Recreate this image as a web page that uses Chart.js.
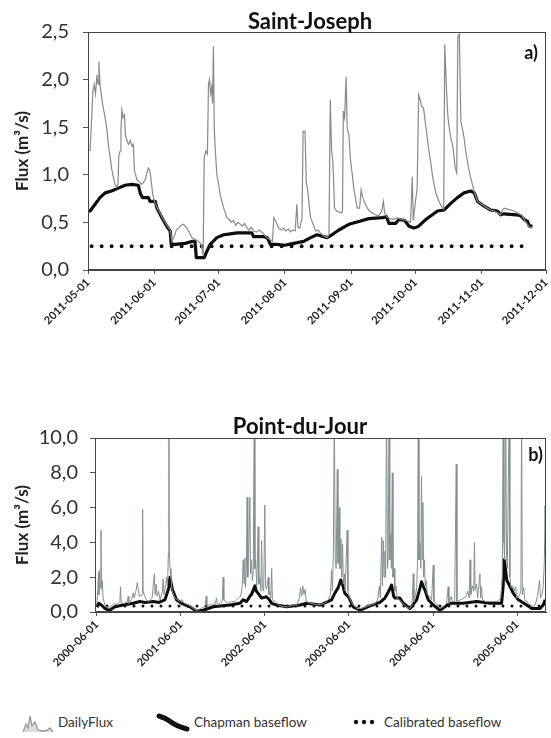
<!DOCTYPE html>
<html>
<head>
<meta charset="utf-8">
<title>Saint-Joseph / Point-du-Jour</title>
<script src="https://cdn.jsdelivr.net/npm/chart.js@4.4.1/dist/chart.umd.min.js"></script>
<style>
  html, body { margin: 0; padding: 0; background: #fff; }
  body { width: 551px; height: 738px; position: relative; overflow: hidden; font-family: Lato, "Open Sans", sans-serif; }
  canvas { position: absolute; left: 0; }
  #sj { top: 0; }
  #pdj { top: 400px; }
  .leg { position: absolute; top: 711px; height: 22px; display: flex; align-items: center; font-size: 13.5px; color: #333; white-space: nowrap; }
  .leg svg { margin-right: 4px; }
</style>
</head>
<body>
<canvas id="sj" width="551" height="345"></canvas>
<canvas id="pdj" width="551" height="300"></canvas>

<div class="leg" style="left:22px">
  <svg width="32" height="22"><polyline points="1,21 4,13 6,17 8,5 10,15 13,11 16,19 20,20 24,20 28,17 31,21" fill="#ddd" stroke="#999" stroke-width="1.3"/></svg>DailyFlux
</div>
<div class="leg" style="left:156px">
  <svg width="34" height="22"><path d="M3,5 Q10,7 15,11 T31,18" fill="none" stroke="#111" stroke-width="5" stroke-linecap="round"/></svg>Chapman baseflow
</div>
<div class="leg" style="left:352px">
  <svg width="28" height="10"><circle cx="4" cy="5" r="2.2" fill="#111"/><circle cx="12" cy="5" r="2.2" fill="#111"/><circle cx="20" cy="5" r="2.2" fill="#111"/></svg>Calibrated baseflow
</div>

<script>
// ---- Saint-Joseph (2011), days since 2011-05-01 ----
const sjTickDays = [0, 31, 61, 92, 123, 153, 184, 214];
const sjTickLabels = ["2011-05-01", "2011-06-01", "2011-07-01", "2011-08-01", "2011-09-01", "2011-10-01", "2011-11-01", "2011-12-01"];

const sjFluxDays = [
  1, 1.6, 2.3, 2.9, 3.5, 4.2, 4.7, 5.1, 5.6, 6.2,
  7, 8, 8.8, 9.5, 10.3, 11, 11.8, 12.6, 13.4, 14,
  14.4, 15, 15.4, 15.8, 16.4, 17, 17.5, 18.2, 18.9, 19.8,
  20.6, 21.2, 21.7, 22.3, 22.8, 23.8, 25, 26, 27, 27.6,
  28.2, 28.8, 29.2, 29.8, 30.3, 31, 32.2, 34.5, 36.8, 38.4,
  39.2, 40.2, 41.3, 42.3, 43.5, 44.6, 45.8, 47, 48.5, 50,
  51.6, 53, 53.8, 54.3, 55, 55.8, 56.3, 56.8, 57.3, 57.8,
  58.2, 58.6, 59, 59.5, 60.2, 61, 61.8, 62.6, 63.4, 64.2,
  64.9, 66, 67, 68, 69, 70, 71.2, 72.2, 73.2, 74.3,
  75.3, 76.3, 77.4, 78.8, 80.2, 82, 83.7, 85, 86.2, 86.8,
  88, 89.1, 90.3, 91.3, 92.5, 93.6, 94.6, 95.8, 96.8, 97.6,
  98.1, 99, 100, 100.5, 101.4, 102, 102.7, 103.4, 104, 105.2,
  106.3, 107.4, 108.6, 110, 111.7, 112.6, 113.2, 113.8, 114.4, 115.2,
  116.2, 117.2, 118.4, 118.9, 119.3, 119.9, 120.6, 121.1, 121.9, 122.7,
  123.5, 124.2, 125, 125.8, 126.9, 127.6, 128.4, 129.4, 130.5, 131.6,
  132.8, 134.3, 135.9, 137.2, 138, 138.6, 139.6, 141, 142.5, 144.5,
  146.5, 148.6, 150.7, 151.5, 152, 153, 153.8, 154.5, 155.3, 155.9,
  156.8, 157.6, 158.5, 159.3, 160.1, 160.9, 161.7, 162.6, 164, 165.6,
  166.2, 166.7, 167.6, 168.2, 168.8, 169.5, 170.6, 171.6, 172.3, 172.8,
  173.5, 174.2, 175, 175.7, 176.5, 177.3, 178, 178.8, 179.6, 180.4,
  181.2, 182, 184, 186.6, 188.2, 189.7, 191.3, 192.8, 193.6, 194.4,
  196, 197.6, 199, 200.6, 202.2, 203, 203.8, 204.6, 205.4, 206.2,
  207, 207.7
];
const sjFlux = [
  1.25, 1.55, 1.88, 1.95, 1.85, 2.05, 1.95, 2.19, 1.95, 1.84,
  1.72, 1.6, 1.48, 1.32, 1.2, 1.07, 0.98, 0.9, 0.87, 0.9,
  1.2, 1.25, 1.45, 1.68, 1.6, 1.63, 1.42, 1.36, 1.32, 1.36,
  1.3, 1.32, 1.04, 1.0, 0.95, 0.93, 0.9, 0.92, 0.96, 1.03,
  1.07, 1.05, 1.0, 0.88, 0.79, 0.72, 0.66, 0.56, 0.47, 0.42,
  0.3, 0.35, 0.42, 0.44, 0.47, 0.48, 0.45, 0.41, 0.34, 0.32,
  0.3, 0.27, 0.15, 1.18, 1.25, 1.22, 1.95, 2.0, 1.85, 1.92,
  1.75, 2.35, 1.49, 1.25, 1.0, 0.9, 0.79, 0.72, 0.65, 0.6,
  0.55, 0.53, 0.5, 0.52, 0.47, 0.5, 0.48, 0.46, 0.49, 0.44,
  0.42, 0.45, 0.41, 0.4, 0.42, 0.38, 0.34, 0.32, 0.3, 0.55,
  0.5, 0.44, 0.42, 0.44, 0.41, 0.43, 0.4, 0.42, 0.41, 0.69,
  0.45, 0.44, 0.55, 1.46, 1.46, 0.92, 0.83, 0.66, 0.55, 0.48,
  0.41, 0.42, 0.39, 0.36, 0.34, 0.37, 1.79, 1.25, 1.15, 0.65,
  0.62, 0.61, 0.6, 0.62, 1.67, 1.6, 2.03, 1.49, 1.42, 1.14,
  1.0, 0.86, 0.75, 0.65, 0.65, 0.84, 0.76, 0.7, 0.65, 0.62,
  0.6, 0.58, 0.57, 0.62, 0.72, 0.6, 0.56, 0.54, 0.53, 0.55,
  0.53, 0.52, 0.5, 0.98, 0.52, 0.72, 0.86, 1.84, 1.78, 1.72,
  1.7, 1.55, 1.39, 1.25, 1.14, 1.0, 0.9, 0.8, 0.72, 0.65,
  0.64, 2.37, 1.84, 1.6, 1.49, 1.39, 1.28, 1.07, 1.02, 2.45,
  2.48, 1.56, 1.48, 1.39, 1.25, 1.14, 1.05, 0.97, 0.9, 0.83,
  0.77, 0.72, 0.69, 0.65, 0.63, 0.62, 0.6, 0.58, 0.63, 0.65,
  0.64, 0.63, 0.62, 0.6, 0.58, 0.56, 0.53, 0.5, 0.48, 0.45,
  0.44, 0.46
];

const sjBaseDays = [
  0, 1, 3.3, 5.6, 8, 11, 14.2, 17.3, 20.4, 23.5,
  24.5, 25.5, 28.2, 29, 31.4, 32.2, 34.5, 36.8, 38.4, 38.9,
  40.7, 45.4, 48.5, 50, 50.6, 53.2, 54.3, 55.6, 57.1, 60.2,
  63.4, 66.5, 69.6, 74.3, 76.5, 77.4, 82.1, 83.7, 85.2, 88.3,
  92, 96.1, 100.8, 104, 107, 111.7, 114, 117.2, 121.9, 126.6,
  131.2, 137.5, 139.5, 140.6, 143.7, 145.3, 148, 150, 152.3, 154.5,
  157.8, 160.9, 163.3, 166.3, 169.5, 172.6, 175.7, 178.8, 180.5, 182,
  185.1, 188.2, 191.3, 192.8, 194.4, 200, 202.2, 203.8, 205.4, 206.2,
  207.7
];
const sjBase = [
  0.62, 0.62, 0.69, 0.76, 0.81, 0.83, 0.86, 0.89, 0.9, 0.89,
  0.8, 0.76, 0.76, 0.72, 0.72, 0.65, 0.55, 0.46, 0.41, 0.27,
  0.27, 0.28, 0.3, 0.3, 0.13, 0.13, 0.13, 0.2, 0.27, 0.34,
  0.37, 0.38, 0.39, 0.39, 0.39, 0.35, 0.35, 0.34, 0.27, 0.27,
  0.26, 0.28, 0.3, 0.34, 0.37, 0.34, 0.37, 0.42, 0.48, 0.51,
  0.54, 0.55, 0.56, 0.49, 0.49, 0.53, 0.52, 0.46, 0.44, 0.46,
  0.53, 0.58, 0.62, 0.63, 0.7, 0.76, 0.81, 0.83, 0.81, 0.72,
  0.67, 0.63, 0.62, 0.58, 0.59, 0.58, 0.57, 0.53, 0.51, 0.46,
  0.46
];
const sjCalibDays = [1.7, 205.4];
const sjCalib = [0.25, 0.25];

// ---- Point-du-Jour (2000-2005), days since 2000-06-01 ----
const pdjTickDays = [0, 365, 730, 1095, 1461, 1826];
const pdjTickLabels = ["2000-06-01", "2001-06-01", "2002-06-01", "2003-06-01", "2004-06-01", "2005-06-01"];

const pdjFluxDays = [
  0, 4, 7, 9, 12, 15, 18, 20, 24, 27,
  35, 50, 60, 75, 85, 100, 103, 106, 120, 133,
  136, 139, 150, 158, 162, 170, 176, 180, 185, 197,
  199, 201, 206, 215, 225, 240, 250, 253, 258, 262,
  268, 275, 285, 288, 292, 300, 303, 307, 311, 313,
  315, 318, 322, 326, 333, 340, 350, 360, 370, 380,
  400, 420, 435, 450, 470, 475, 478, 500, 515, 520,
  524, 535, 545, 549, 552, 570, 585, 600, 615, 625,
  632, 636, 640, 643, 646, 650, 653, 656, 660, 665,
  668, 672, 676, 680, 684, 687, 690, 695, 701, 704,
  709, 713, 716, 719, 725, 730, 733, 738, 745, 748,
  752, 756, 760, 763, 775, 790, 810, 830, 850, 870,
  880, 885, 890, 895, 900, 905, 910, 930, 960, 990,
  1005, 1015, 1020, 1024, 1028, 1032, 1036, 1040, 1045, 1048,
  1053, 1056, 1061, 1064, 1068, 1071, 1076, 1079, 1088, 1091,
  1096, 1105, 1115, 1130, 1150, 1170, 1190, 1210, 1220, 1228,
  1232, 1238, 1241, 1245, 1248, 1252, 1255, 1259, 1263, 1266,
  1270, 1273, 1277, 1280, 1284, 1287, 1292, 1295, 1300, 1305,
  1315, 1330, 1345, 1360, 1370, 1375, 1378, 1385, 1390, 1394,
  1397, 1400, 1404, 1408, 1411, 1414, 1417, 1420, 1424, 1427,
  1432, 1436, 1445, 1455, 1462, 1465, 1475, 1490, 1505, 1520,
  1527, 1530, 1540, 1545, 1555, 1562, 1565, 1580, 1595, 1605,
  1612, 1618, 1622, 1625, 1632, 1638, 1641, 1644, 1650, 1655,
  1665, 1668, 1672, 1676, 1690, 1705, 1720, 1740, 1755, 1762,
  1766, 1769, 1772, 1777, 1780, 1784, 1792, 1795, 1800, 1808,
  1814, 1820, 1825, 1835, 1843, 1846, 1849, 1855, 1860, 1875,
  1890, 1905, 1915, 1920, 1924, 1928, 1935, 1940, 1945, 1948, 1951
];
const pdjFlux = [
  0.5, 1.2, 2.3, 1.0, 2.4, 1.4, 4.7, 1.3, 1.8, 0.8,
  0.4, 0.2, 0.3, 0.5, 0.4, 0.6, 1.45, 0.5, 0.5, 0.6,
  0.9, 0.5, 0.7, 1.1, 0.8, 1.2, 1.7, 1.3, 0.9, 1.0,
  5.9, 1.2, 1.0, 0.7, 0.6, 0.8, 2.2, 1.0, 1.6, 0.9,
  1.2, 0.7, 1.2, 1.9, 1.0, 1.6, 2.0, 1.4, 3.4, 12,
  3.6, 2.5, 2.0, 1.3, 1.0, 0.8, 0.7, 0.6, 0.7, 0.5,
  0.4, 0.2, 0.1, 0.2, 0.3, 0.9, 0.4, 0.4, 0.5, 0.8,
  0.4, 0.5, 0.6, 2.0, 0.7, 0.5, 0.6, 0.6, 0.8, 0.9,
  1.5, 3.0, 1.6, 3.1, 1.4, 2.5, 6.6, 2.0, 3.5, 6.6,
  2.2, 3.0, 1.8, 2.4, 12, 2.5, 3.0, 1.5, 4.9, 1.6,
  2.0, 1.2, 4.1, 1.5, 1.2, 6.15, 1.5, 1.3, 2.0, 1.0,
  1.2, 0.8, 2.5, 0.7, 0.6, 0.4, 0.3, 0.3, 0.4, 0.4,
  0.8, 1.4, 0.9, 1.5, 1.0, 1.3, 0.6, 0.5, 0.4, 0.5,
  0.7, 1.0, 2.4, 1.2, 3.5, 12, 3.0, 2.5, 8.2, 2.8,
  6.0, 2.5, 4.2, 2.0, 3.9, 1.6, 2.2, 1.2, 4.7, 1.2,
  0.9, 0.6, 0.4, 0.2, 0.2, 0.3, 0.4, 0.5, 0.7, 1.5,
  0.8, 4.3, 1.5, 4.1, 2.0, 3.5, 2.0, 12, 2.5, 3.0,
  12, 3.0, 4.5, 2.5, 8.0, 2.0, 2.5, 1.2, 1.5, 0.8,
  0.7, 0.5, 0.3, 0.2, 0.4, 2.2, 0.6, 1.0, 1.4, 3.0,
  12, 3.0, 4.0, 2.5, 7.8, 3.0, 6.3, 2.0, 3.0, 1.5,
  1.8, 1.0, 0.9, 0.7, 2.7, 0.6, 0.5, 0.2, 0.3, 0.5,
  1.45, 0.5, 0.9, 0.6, 0.6, 8.5, 0.6, 0.7, 0.8, 0.9,
  1.2, 0.8, 3.0, 1.0, 1.5, 1.2, 4.0, 1.3, 1.6, 0.8,
  2.2, 0.8, 1.45, 0.7, 0.6, 0.6, 0.6, 0.6, 0.8, 2.0,
  12, 4.0, 3.0, 12, 3.5, 2.5, 12, 2.0, 1.4, 1.5,
  1.2, 1.45, 0.8, 0.9, 1.2, 12, 1.0, 1.4, 0.7, 0.5,
  0.3, 0.4, 0.9, 1.4, 1.84, 0.8, 1.0, 1.5, 3.0, 6.1, 4.0
];

const pdjBaseDays = [
  0, 8, 20, 35, 56, 78, 114, 158, 187, 210,
  245, 270, 296, 310, 318, 322, 328, 335, 346, 368,
  404, 433, 462, 506, 578, 622, 636, 651, 665, 672,
  687, 693, 701, 716, 737, 750, 760, 781, 825, 883,
  912, 970, 1020, 1035, 1049, 1060, 1066, 1078, 1093, 1100,
  1114, 1130, 1143, 1187, 1230, 1252, 1265, 1274, 1281, 1290,
  1296, 1317, 1332, 1361, 1390, 1405, 1411, 1418, 1426, 1440,
  1462, 1491, 1535, 1593, 1651, 1709, 1759, 1766, 1770, 1775,
  1781, 1796, 1810, 1832, 1868, 1890, 1926, 1940, 1948
];
const pdjBase = [
  0.3, 0.5, 0.4, 0.2, 0.1, 0.3, 0.4, 0.5, 0.6, 0.55,
  0.6, 0.55, 0.7, 1.26, 2.0, 2.0, 1.3, 1.07, 0.7, 0.5,
  0.3, 0.05, 0.1, 0.3, 0.4, 0.5, 0.7, 0.6, 0.9, 1.0,
  1.5, 1.2, 1.07, 0.8, 0.88, 0.7, 0.5, 0.4, 0.3, 0.4,
  0.5, 0.4, 0.7, 1.1, 1.4, 1.84, 1.7, 1.07, 0.88, 0.7,
  0.3, 0.2, 0.1, 0.35, 0.55, 0.8, 1.1, 1.36, 1.55, 0.9,
  0.8, 0.8, 0.5, 0.2, 0.7, 1.4, 1.74, 1.5, 1.26, 0.7,
  0.4, 0.1, 0.5, 0.5, 0.6, 0.5, 0.5, 1.5, 3.0, 2.6,
  1.84, 1.45, 1.07, 0.7, 0.4, 0.2, 0.2, 0.4, 0.7
];
const pdjCalibDays = [5, 1926];
const pdjCalib = [0.35, 0.35];

// zip day/value arrays into {x, y} points
function pts(days, vals) {
  return days.map((d, i) => ({ x: d, y: vals[i] }));
}

// box around plot + title sitting on the frame + panel tag
const panelDeco = {
  id: "panelDeco",
  afterDraw(chart, args, opts) {
    const { ctx, chartArea: a } = chart;
    ctx.save();
    ctx.strokeStyle = "#444";
    ctx.lineWidth = 1;
    ctx.strokeRect(a.left + 0.5, a.top + 0.5, a.width - 1, a.height - 1);
    ctx.fillStyle = "#111";
    ctx.font = "bold 22px Lato";
    ctx.textAlign = "center";
    ctx.textBaseline = "alphabetic";
    ctx.fillText(opts.title, opts.titleX, a.top - opts.titleGap);
    ctx.font = "bold 18px Lato";
    ctx.textAlign = "right";
    ctx.fillText(opts.tag, a.right - opts.tagRight, a.top + opts.tagDown);
    ctx.restore();
  },
};

function makeChart(id, cfg) {
  return new Chart(document.getElementById(id), {
    type: "line",
    data: {
      datasets: [
        {
          label: "DailyFlux",
          data: pts(cfg.fluxDays, cfg.flux),
          borderColor: cfg.fluxColor,
          borderWidth: cfg.fluxWidth,
          pointRadius: 0,
          tension: 0,
        },
        {
          label: "Chapman baseflow",
          data: pts(cfg.baseDays, cfg.base),
          borderColor: "#0d0d0d",
          borderWidth: cfg.baseWidth,
          borderJoinStyle: "round",
          pointRadius: 0,
          tension: 0,
        },
        {
          label: "Calibrated baseflow",
          data: pts(cfg.calibDays, cfg.calib),
          borderColor: "#111",
          borderWidth: cfg.dotSize,
          borderDash: [0, cfg.dotGap],
          borderCapStyle: "round",
          pointRadius: 0,
        },
      ],
    },
    options: {
      responsive: false,
      animation: false,
      events: [],
      layout: { padding: { top: cfg.top, right: 5, left: 0, bottom: 0 } },
      plugins: {
        legend: { display: false },
        tooltip: { enabled: false },
        panelDeco: cfg.deco,
      },
      scales: {
        x: {
          type: "linear",
          min: cfg.xMin,
          max: cfg.xMax,
          grid: { drawOnChartArea: false, tickLength: 4, color: "#555" },
          border: { color: "#444" },
          afterBuildTicks: (s) => {
            s.ticks = cfg.tickDays.map((v) => ({ value: v }));
          },
          afterFit: (s) => {
            s.height = cfg.xHeight;
            s.paddingLeft = 0;
            s.paddingRight = 0;
          },
          ticks: {
            autoSkip: false,
            minRotation: 45,
            maxRotation: 45,
            padding: 2,
            color: "#222",
            font: { family: "Lato", size: 11, weight: "bold" },
            callback: (v) => cfg.tickLabels[cfg.tickDays.indexOf(v)],
          },
        },
        y: {
          min: 0,
          max: cfg.yMax,
          grid: { drawOnChartArea: false, tickLength: 5, color: "#555" },
          border: { color: "#444" },
          afterFit: (s) => {
            s.width = cfg.yWidth;
          },
          ticks: {
            stepSize: cfg.yStep,
            padding: cfg.yPad,
            color: "#333",
            font: { family: "Lato", size: 20 },
            callback: (v) => v.toFixed(1).replace(".", ","),
          },
          title: {
            display: true,
            text: "Flux (m³/s)",
            color: "#222",
            padding: { top: 12, bottom: 0 },
            font: { family: "Lato", size: 17, weight: "bold" },
          },
        },
      },
    },
    plugins: [panelDeco],
  });
}

makeChart("sj", {
  fluxDays: sjFluxDays, flux: sjFlux,
  baseDays: sjBaseDays, base: sjBase,
  calibDays: sjCalibDays, calib: sjCalib,
  tickDays: sjTickDays, tickLabels: sjTickLabels,
  fluxColor: "#8a8a8a", fluxWidth: 1.2, baseWidth: 3.2, dotSize: 4, dotGap: 10,
  xMin: 0, xMax: 214, yMax: 2.5, yStep: 0.5,
  top: 32, xHeight: 75, yWidth: 88, yPad: 14,
  deco: { title: "Saint-Joseph", titleX: 310, titleGap: 3, tag: "a)", tagRight: 8, tagDown: 27 },
});

makeChart("pdj", {
  fluxDays: pdjFluxDays, flux: pdjFlux,
  baseDays: pdjBaseDays, base: pdjBase,
  calibDays: pdjCalibDays, calib: pdjCalib,
  tickDays: pdjTickDays, tickLabels: pdjTickLabels,
  fluxColor: "#849090", fluxWidth: 1, baseWidth: 3, dotSize: 3, dotGap: 9,
  xMin: -8, xMax: 1952, yMax: 10, yStep: 2,
  top: 38, xHeight: 88, yWidth: 95, yPad: 12,
  deco: { title: "Point-du-Jour", titleX: 300, titleGap: 4, tag: "b)", tagRight: 3, tagDown: 23 },
});
</script>
</body>
</html>
